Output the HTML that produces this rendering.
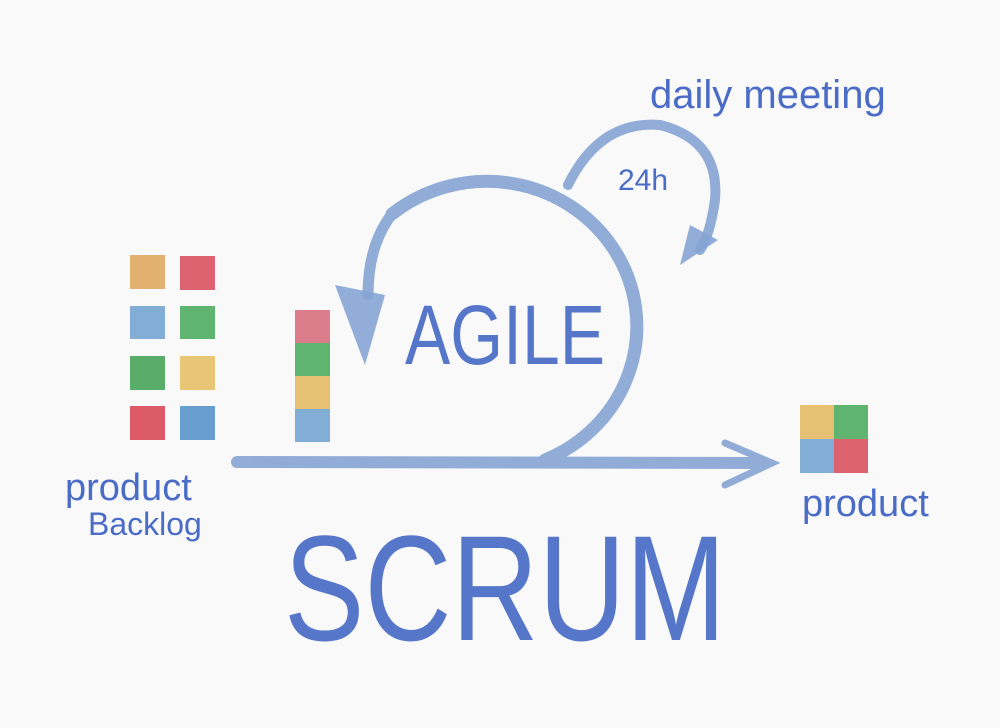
<!DOCTYPE html>
<html><head><meta charset="utf-8"><style>
html,body{margin:0;padding:0;background:#f9f9f9;}
svg{display:block}
text{font-family:"Liberation Sans",sans-serif;fill:#4a6cc6;}
</style></head><body>
<svg width="1000" height="728" viewBox="0 0 1000 728" xmlns="http://www.w3.org/2000/svg">
<rect width="1000" height="728" fill="#f9f9f9"/>
<g opacity="0.85">
<rect x="130" y="255" width="35" height="34" fill="#dfa55a"/>
<rect x="180" y="256" width="35" height="34" fill="#d84a58"/>
<rect x="130" y="306" width="35" height="33" fill="#6ea2cf"/>
<rect x="180" y="306" width="35" height="33" fill="#45a858"/>
<rect x="130" y="356" width="35" height="34" fill="#3fa050"/>
<rect x="180" y="356" width="35" height="34" fill="#e6be5e"/>
<rect x="130" y="406" width="35" height="34" fill="#d8404e"/>
<rect x="180" y="406" width="35" height="34" fill="#4f8fc8"/>
<rect x="295" y="310" width="35" height="33" fill="#d86878"/>
<rect x="295" y="343" width="35" height="33" fill="#45a858"/>
<rect x="295" y="376" width="35" height="33" fill="#e3b85c"/>
<rect x="295" y="409" width="35" height="33" fill="#6ea2cf"/>
<rect x="800" y="405" width="34" height="34" fill="#e3b85c"/>
<rect x="834" y="405" width="34" height="34" fill="#45a858"/>
<rect x="800" y="439" width="34" height="34" fill="#6ea2cf"/>
<rect x="834" y="439" width="34" height="34" fill="#d84a58"/>
</g>
<g fill="none" stroke="#86a4d4" stroke-linecap="round" opacity="0.9">
<path d="M237 462 L765 463" stroke-width="12"/>
<path d="M545 460 A150 145 0 1 0 392 214" stroke-width="13"/>
<path d="M392 214 Q368 245 368 295" stroke-width="11"/>
<path d="M568 185 Q600 120 660 125 Q720 140 715 200 Q710 235 700 250" stroke-width="10"/>
<path d="M725 443 L772 463 L725 485" stroke-width="7"/>
</g>
<g fill="#86a4d4" opacity="0.9">
<polygon points="335,285 385,295 365,365"/>
<polygon points="680,265 690,225 718,240"/>
</g>
<text x="650" y="108" font-size="40">daily meeting</text>
<text x="618" y="190" font-size="30">24h</text>
<text x="405" y="364" font-size="84" textLength="200" lengthAdjust="spacingAndGlyphs" style="fill:#5677c9">AGILE</text>
<text x="284" y="640" font-size="150" textLength="442" lengthAdjust="spacingAndGlyphs" style="fill:#5677c9">SCRUM</text>
<text x="65" y="500" font-size="38">product</text>
<text x="88" y="535" font-size="32">Backlog</text>
<text x="802" y="516" font-size="38">product</text>
</svg>
</body></html>
